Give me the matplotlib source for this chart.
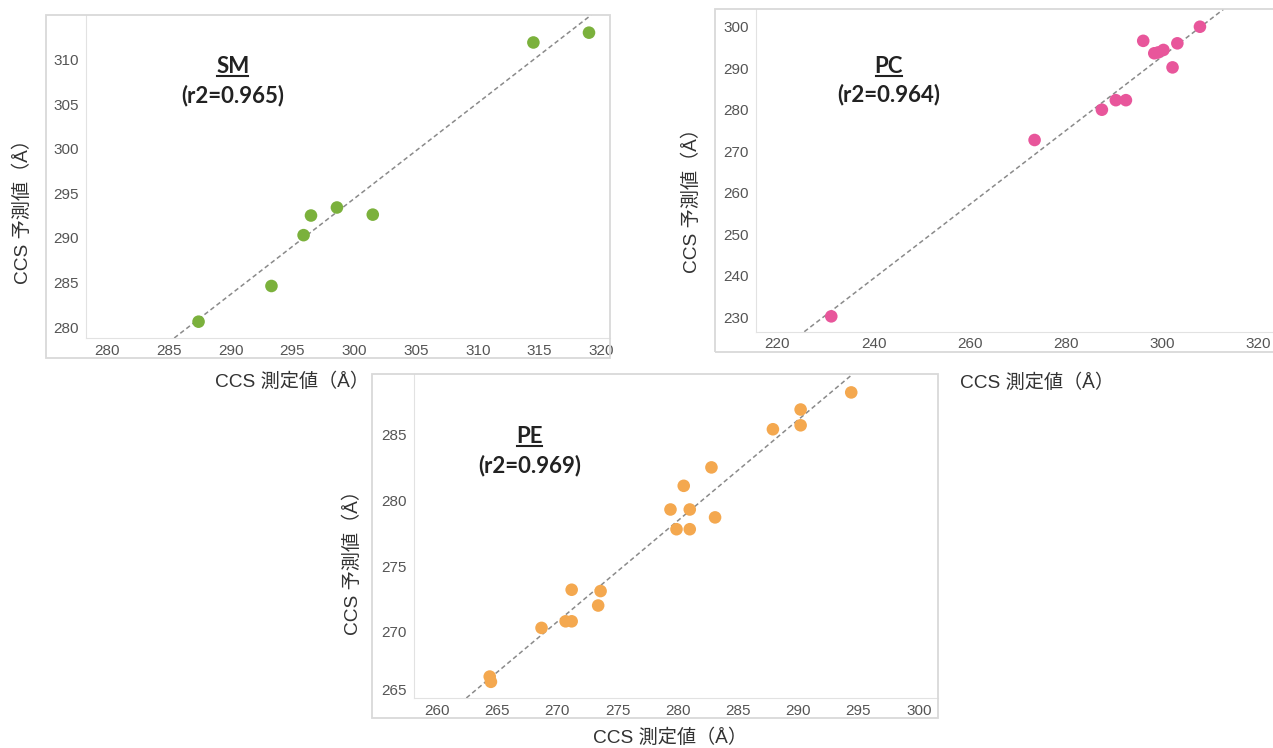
import matplotlib
matplotlib.use('Agg')
import matplotlib.pyplot as plt
from matplotlib.lines import Line2D
from matplotlib.patches import Rectangle

plt.rcParams['font.family'] = ['Liberation Sans', 'Noto Sans CJK JP']

W, H = 1273, 748

# SM
sm_x = [287.4, 293.3, 295.9, 296.5, 298.6, 301.5, 314.5, 319.0]
sm_y = [280.6, 284.6, 290.3, 292.5, 293.4, 292.6, 311.9, 313.0]
sm_fit = (1.073, -27.5)   # slope, intercept
sm_r2 = 0.965

# PC
pc_x = [231.2, 273.5, 287.5, 290.4, 292.5, 296.1, 298.4, 299.2, 300.3, 302.2, 303.2, 307.9]
pc_y = [230.2, 272.7, 280.0, 282.3, 282.3, 296.6, 293.6, 293.8, 294.4, 290.2, 296.0, 300.0]
pc_fit = (0.891, 25.5)
pc_r2 = 0.964

# PE
pe_x = [264.4, 264.5, 268.7, 270.7, 271.2, 271.2, 273.4, 273.6, 279.4, 279.9,
        281.0, 281.0, 280.5, 282.8, 283.1, 287.9, 290.2, 290.2, 294.4]
pe_y = [266.6, 266.2, 270.3, 270.8, 270.8, 273.2, 272.0, 273.1, 279.3, 277.8,
        277.8, 279.3, 281.1, 282.5, 278.7, 285.4, 286.9, 285.7, 288.2]
pe_fit = (0.768, 63.4)
pe_r2 = 0.969

xlabel = 'CCS 測定値（Å）'
ylabel = 'CCS 予測値（Å）'

fig = plt.figure(figsize=(W / 100, H / 100), dpi=100)

titles = []


def panel(box, frame, xs, ys, fit, r2, name, color, xlim, ylim, xticks, yticks,
          txt_pos, xlab_pos, ylab_pos):
    l, t, r, b = box
    ax = fig.add_axes([l / W, 1 - b / H, (r - l) / W, (b - t) / H])
    fl, ft, fr, fb = frame
    fig.add_artist(Rectangle((fl / W, 1 - fb / H), (fr - fl) / W, (fb - ft) / H,
                             transform=fig.transFigure, fill=False,
                             edgecolor='#d9d9d9', lw=1.3))
    ax.scatter(xs, ys, s=82, color=color, edgecolors='none', zorder=3)
    ax.axline((0, fit[1]), slope=fit[0], color='#8a8a8a', lw=1.1,
              linestyle=(0, (3, 2)), zorder=2)
    ax.set_xlim(*xlim)
    ax.set_ylim(*ylim)
    ax.set_xticks(xticks)
    ax.set_yticks(yticks)
    for s in ['top', 'right']:
        ax.spines[s].set_visible(False)
    for s in ['left', 'bottom']:
        ax.spines[s].set_color('#e2e2e2')
    ax.tick_params(length=0, labelsize=11, labelcolor='#555555')
    ax.tick_params(axis='x', pad=4)
    ax.tick_params(axis='y', pad=5)
    ax.set_xlabel(xlabel, fontsize=13.8, color='#333333')
    ax.set_ylabel(ylabel, fontsize=13.8, color='#333333')
    ax.xaxis.set_label_coords(*xlab_pos)
    ax.yaxis.set_label_coords(*ylab_pos)
    t1 = ax.text(txt_pos[0], txt_pos[1], name, transform=ax.transAxes,
                 ha='center', va='center', family='Lato', fontweight='bold',
                 fontsize=16, color='#222222')
    ax.text(txt_pos[0], txt_pos[2], f'(r2={r2:.3f})', transform=ax.transAxes,
            ha='center', va='center', family='Lato', fontweight='bold',
            fontsize=16, color='#222222')
    titles.append(t1)
    return ax


panel((85.5, 15, 609.5, 338), (46, 15, 610, 358), sm_x, sm_y, sm_fit, sm_r2,
      'SM', '#7bb13c', (278.25, 320.66), (278.77, 314.98),
      range(280, 321, 5), range(280, 311, 5),
      (0.281, 0.840, 0.752), (0.394, -0.108), (-0.102, 0.406))

panel((755.8, 9.3, 1273, 331.7), (715, 9.3, 1290, 352), pc_x, pc_y, pc_fit, pc_r2,
      'PC', '#e8569b', (215.5, 323.1), (226.5, 304.2),
      range(220, 321, 20), range(230, 301, 10),
      (0.257, 0.822, 0.736), (0.544, -0.128), (-0.106, 0.421))

ax_pe = panel((413.8, 374, 938, 698), (372, 374, 938, 718), pe_x, pe_y, pe_fit, pe_r2,
              'PE', '#f4a84f', (258.1, 301.6), (264.97, 289.6),
              range(260, 301, 5), range(265, 286, 5),
              (0.221, 0.806, 0.719), (0.489, -0.094), (-0.099, 0.432))

# underline the lipid class names
fig.canvas.draw()
# lowest PE y label sits just above the axis line
ax_pe.yaxis.get_major_ticks()[0].label1.set_verticalalignment('bottom')
rend = fig.canvas.get_renderer()
inv = fig.transFigure.inverted()
for t1 in titles:
    bb = t1.get_window_extent(rend)
    (x0, y0), (x1, _) = inv.transform([(bb.x0 + 1, bb.y0 + 1), (bb.x1 - 1, bb.y0 + 1)])
    fig.add_artist(Line2D([x0, x1], [y0, y0], transform=fig.transFigure,
                          color='#222222', lw=1.5))

fig.savefig('out.png', dpi=100)
